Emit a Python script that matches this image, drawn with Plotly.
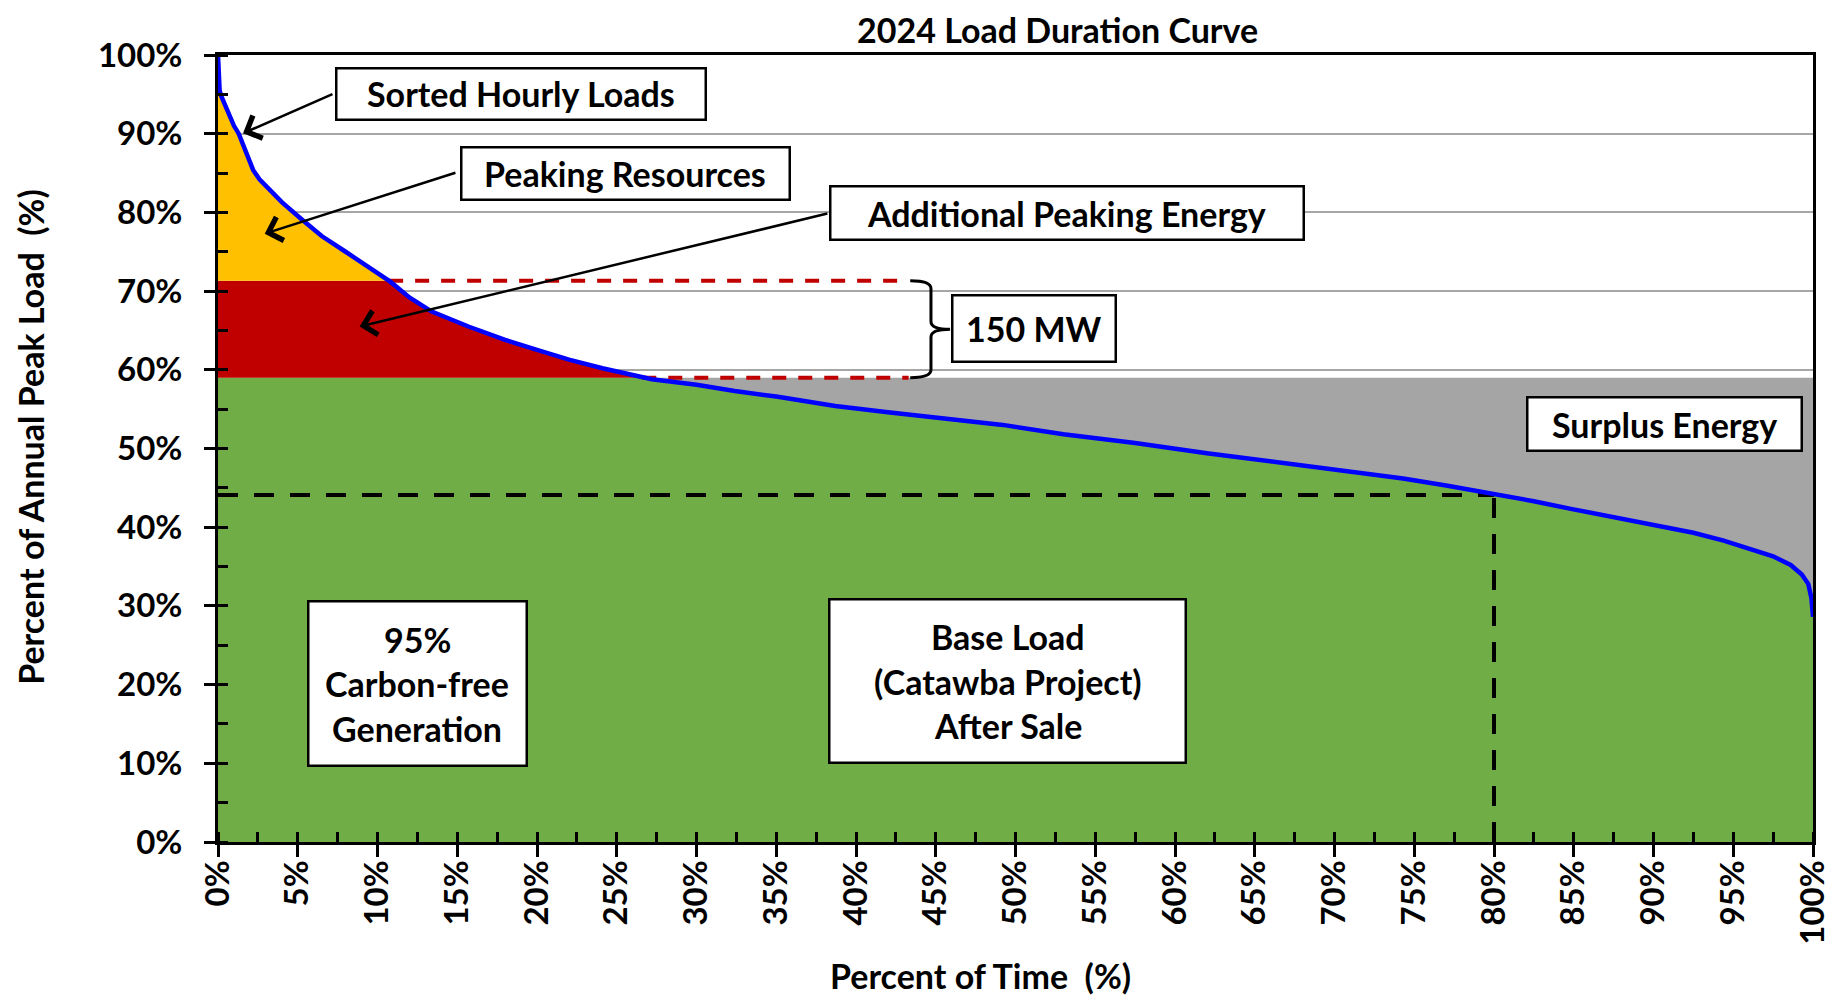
import numpy as np
import plotly.graph_objects as go

# ---------------- data ----------------
time_pct = [0, 0.05, 0.1, 0.2, 0.4, 0.7, 1.0, 1.3, 1.7, 2.2, 2.6, 3.0, 4.0, 5.2, 6.5, 8.0,
            9.5, 10.8, 12.0, 13.4, 15.7, 18.0, 19.9, 22.0, 24.1, 26.6, 27.2, 30.0,
            32.4, 35.0, 38.7, 42.0, 45.0, 49.2, 53.0, 57.5, 62.0, 65.9, 70.0, 74.3,
            77.0, 80.2, 82.5, 84.9, 87.5, 90.2, 92.5, 94.4, 96.0, 97.5, 98.6, 99.3,
            99.7, 99.9, 100.0]
load_pct = [100.0, 97.5, 95.5, 94.8, 93.8, 92.4, 91.0, 90.0, 87.8, 85.4, 84.2, 83.4,
            81.3, 79.2, 77.0, 75.0, 73.0, 71.2, 69.2, 67.4, 65.5, 63.8, 62.6, 61.3,
            60.2, 59.0, 58.8, 58.1, 57.3, 56.6, 55.4, 54.6, 53.9, 53.0, 51.8, 50.7,
            49.4, 48.4, 47.4, 46.2, 45.3, 44.2, 43.3, 42.3, 41.3, 40.3, 39.3, 38.3,
            37.3, 36.3, 35.2, 34.0, 32.8, 31.0, 28.6]

peaking_level = 71.3      # top of the 150 MW band
base_level = 59.0         # carbon-free base level
catawba_load = 44.1       # base load after sale
catawba_time = 80.0       # percent of time
x_ticks = list(range(0, 101, 5))
y_ticks = list(range(0, 101, 10))

# colours
C_YELLOW = "#FFC000"
C_RED = "#C00000"
C_GREEN = "#70AD47"
C_GRAY = "#A5A5A5"
C_BLUE = "#0000FF"
FONT = "Lato"

# ---------------- geometry helpers ----------------
def with_crossings(x, y, levels):
    xs, ys = [x[0]], [y[0]]
    for i in range(1, len(x)):
        x0, y0, x1, y1 = x[i - 1], y[i - 1], x[i], y[i]
        cr = []
        for L in levels:
            if (y0 - L) * (y1 - L) < 0:
                t = (L - y0) / (y1 - y0)
                cr.append((x0 + t * (x1 - x0), L))
        cr.sort()
        for cx, cy in cr:
            xs.append(cx)
            ys.append(cy)
        xs.append(x1)
        ys.append(y1)
    return np.array(xs), np.array(ys)


def crossing_x(x, y, level):
    for i in range(1, len(x)):
        if (y[i - 1] - level) * (y[i] - level) <= 0 and y[i - 1] != y[i]:
            t = (level - y[i - 1]) / (y[i] - y[i - 1])
            return x[i - 1] + t * (x[i] - x[i - 1])
    return x[0]


xs, ys = with_crossings(time_pct, load_pct, [peaking_level, base_level])
lo_base = np.minimum(ys, base_level)
lo_peak = np.minimum(ys, peaking_level)
flat_base = np.full_like(xs, base_level)

fig = go.Figure()
common = dict(mode="lines", line=dict(width=0), hoverinfo="skip", showlegend=False)
fig.add_trace(go.Scatter(x=xs, y=lo_base, fill="tozeroy", fillcolor=C_GREEN, **common))
fig.add_trace(go.Scatter(x=xs, y=lo_peak, fill="tonexty", fillcolor=C_RED, **common))
fig.add_trace(go.Scatter(x=xs, y=ys, fill="tonexty", fillcolor=C_YELLOW, **common))
fig.add_trace(go.Scatter(x=xs, y=lo_base, **common))
fig.add_trace(go.Scatter(x=xs, y=flat_base, fill="tonexty", fillcolor=C_GRAY, **common))

# red dashed 150 MW band lines
band_end = 43.3
x_peak = crossing_x(time_pct, load_pct, peaking_level)
x_base = crossing_x(time_pct, load_pct, base_level)
red_dash = dict(color=C_RED, width=4, dash="14px,12px")
fig.add_trace(go.Scatter(x=[x_peak, band_end], y=[peaking_level, peaking_level], mode="lines",
                         line=red_dash, hoverinfo="skip", showlegend=False))
fig.add_trace(go.Scatter(x=[x_base, band_end], y=[base_level, base_level], mode="lines",
                         line=red_dash, hoverinfo="skip", showlegend=False))

# black dashed catawba lines
blk_dash = dict(color="black", width=4, dash="20px,16px")
fig.add_trace(go.Scatter(x=[0, catawba_time], y=[catawba_load, catawba_load], mode="lines",
                         line=blk_dash, hoverinfo="skip", showlegend=False))
fig.add_trace(go.Scatter(x=[catawba_time, catawba_time], y=[0, catawba_load], mode="lines",
                         line=blk_dash, hoverinfo="skip", showlegend=False))

# load duration curve
fig.add_trace(go.Scatter(x=time_pct, y=load_pct, mode="lines",
                         line=dict(color=C_BLUE, width=4.5), showlegend=False))

# curly brace
bx0, bxv, bxt = 43.4, 44.7, 45.9
mid = (peaking_level + base_level) / 2
r = 1.0
brace = (f"M{bx0},{peaking_level} Q{bxv},{peaking_level} {bxv},{peaking_level - r} "
         f"L{bxv},{mid + r} Q{bxv},{mid} {bxt},{mid} Q{bxv},{mid} {bxv},{mid - r} "
         f"L{bxv},{base_level + r} Q{bxv},{base_level} {bx0},{base_level}")
fig.add_shape(type="path", path=brace, xref="x", yref="y",
              line=dict(color="black", width=3), layer="above")

# ---------------- annotation boxes ----------------
fs = 34
boxes = [
    # x, y centre (data), width, height (px), lines
    (19.02, 95.07, 372, 54, ["Sorted Hourly Loads"]),
    (25.53, 85.0, 331, 55, ["Peaking Resources"]),
    (53.2, 79.9, 476, 56, ["Additional Peaking Energy"]),
    (51.16, 65.25, 166, 69, ["150 MW"]),
    (90.69, 53.1, 277, 56, ["Surplus Energy"]),
    (12.48, 20.1, 221, 167, ["95%", "Carbon-free", "Generation"]),
    (49.5, 20.4, 359, 166, ["Base Load", "(Catawba Project)", "After Sale"]),
]
bw = 2.5
for (bx, by, w, h, lines) in boxes:
    fig.add_annotation(x=bx, y=by, xref="x", yref="y", text=" ", showarrow=False,
                       width=w - 2 * bw, height=h - 2 * bw, bgcolor="white",
                       bordercolor="black", borderwidth=bw, borderpad=0,
                       xanchor="center", yanchor="middle")
    n = len(lines)
    for k, t in enumerate(lines):
        fig.add_annotation(x=bx, y=by, xref="x", yref="y", text=t, showarrow=False,
                           yshift=(n - 1) / 2 * 44.5 - k * 44.5,
                           font=dict(family=FONT, size=fs, color="black", weight="bold"),
                           xanchor="center", yanchor="middle")

# arrows (head, tail)
arrows = [
    ((1.57, 90.05), (7.27, 95.1)),
    ((2.93, 77.3), (14.98, 85.1)),
    ((8.88, 65.5), (38.3, 79.9)),
]
for (hx, hy), (tx, ty) in arrows:
    fig.add_annotation(x=hx, y=hy, ax=tx, ay=ty, xref="x", yref="y", axref="x", ayref="y",
                       text="", showarrow=True, arrowhead=4, arrowsize=1.9,
                       arrowwidth=2.5, arrowcolor="black")

# titles (paper coords = plot area)
tfont = dict(family=FONT, size=34, color="black", weight="bold")
fig.add_annotation(text="2024 Load Duration Curve", xref="paper", yref="paper",
                   x=0.5266, y=1.0330, showarrow=False, font=tfont,
                   xanchor="center", yanchor="middle")
fig.add_annotation(text="Percent of Time  (%)", xref="paper", yref="paper",
                   x=0.478, y=-0.1690, showarrow=False, font=tfont,
                   xanchor="center", yanchor="middle")
fig.add_annotation(text="Percent of Annual Peak Load  (%)", xref="paper", yref="paper",
                   x=-0.1180, y=0.5146, showarrow=False, font=tfont, textangle=-90,
                   xanchor="center", yanchor="middle")

tick_font = dict(family=FONT, size=33, color="black", weight="bold")
# the page body has an 8px margin: shift the figure so the plot area lands at
# x 218..1813, y 55..842 of the window
fig.update_layout(
    width=1823, height=988,
    margin=dict(l=210, r=18, t=47, b=154, autoexpand=False),
    paper_bgcolor="white", plot_bgcolor="white",
    font=dict(family=FONT, color="black", weight="bold"),
    xaxis=dict(range=[0, 100], tickvals=x_ticks, ticktext=[f"{v}%" for v in x_ticks],
               tickangle=-90, ticks="outside", ticklen=12, tickwidth=3, tickcolor="black",
               minor=dict(dtick=2.5, ticks="inside", ticklen=10, tickwidth=3,
                          tickcolor="black", showgrid=False),
               showline=True, linewidth=3, linecolor="black", mirror=True, automargin=False,
               showgrid=False, zeroline=False, tickfont=tick_font, ticklabelstandoff=-10),
    yaxis=dict(range=[0, 100], tickvals=y_ticks, ticktext=[f"{v}%" for v in y_ticks],
               ticks="outside", ticklen=11, tickwidth=3, tickcolor="black",
               minor=dict(dtick=5, ticks="inside", ticklen=10, tickwidth=3,
                          tickcolor="black", showgrid=False),
               showline=True, linewidth=3, linecolor="black", mirror=True, automargin=False,
               showgrid=True, gridcolor="#A6A6A6", gridwidth=1.5, zeroline=False,
               tickfont=tick_font, ticklabelstandoff=15),
)

fig.write_html("out.html")
